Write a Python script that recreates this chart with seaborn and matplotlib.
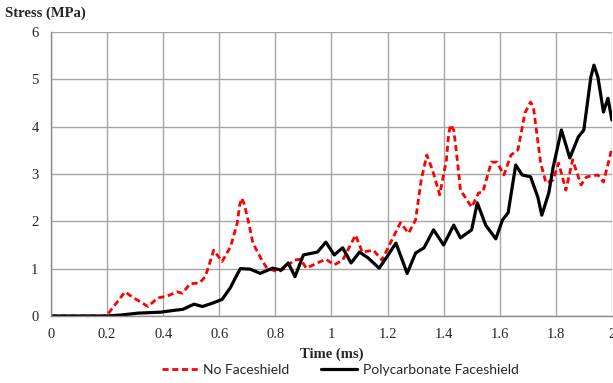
import numpy as np
import pandas as pd
import seaborn as sns
import matplotlib
matplotlib.use("Agg")
import matplotlib.pyplot as plt

# No Faceshield (red dashed)
red_t = [0, 0.19, 0.20, 0.23, 0.264, 0.29, 0.346, 0.38, 0.414, 0.45,
         0.468, 0.496, 0.53, 0.55, 0.565, 0.58, 0.61, 0.64, 0.664, 0.673,
         0.68, 0.688, 0.70, 0.72, 0.75, 0.77, 0.81, 0.84, 0.866, 0.89,
         0.91, 0.95, 0.98, 1.01, 1.04, 1.086, 1.11, 1.15, 1.18, 1.21,
         1.246, 1.275, 1.30, 1.32, 1.34, 1.36, 1.386, 1.41, 1.418, 1.425,
         1.436, 1.446, 1.46, 1.50, 1.525, 1.54, 1.57, 1.59, 1.615, 1.64,
         1.665, 1.69, 1.71, 1.72, 1.746, 1.765, 1.79, 1.81, 1.836, 1.86,
         1.89, 1.91, 1.95, 1.97, 1.99, 2.0]
red_s = [0, 0, 0.02, 0.25, 0.51, 0.40, 0.20, 0.38, 0.42, 0.51,
         0.48, 0.68, 0.70, 0.83, 1.1, 1.39, 1.15, 1.46, 1.96, 2.35,
         2.49, 2.38, 2.1, 1.54, 1.2, 1.01, 0.93, 1.03, 1.18, 1.2,
         1.01, 1.12, 1.2, 1.08, 1.18, 1.71, 1.35, 1.39, 1.18, 1.54,
         1.97, 1.75, 2.03, 2.87, 3.4, 3.09, 2.56, 3.3, 3.85, 4.04,
         3.93, 3.45, 2.66, 2.3, 2.6, 2.62, 3.25, 3.25, 2.98, 3.4,
         3.51, 4.29, 4.52, 4.42, 3.23, 2.81, 2.87, 3.23, 2.66, 3.3,
         2.77, 2.94, 2.98, 2.83, 3.3, 3.55]

# Polycarbonate Faceshield (black solid)
blk_t = [0, 0.20, 0.25, 0.31, 0.39, 0.44, 0.47, 0.51, 0.54, 0.58,
         0.61, 0.64, 0.657, 0.675, 0.71, 0.746, 0.79, 0.82, 0.846, 0.87,
         0.90, 0.95, 0.98, 1.01, 1.04, 1.07, 1.10, 1.13, 1.17, 1.19,
         1.23, 1.27, 1.30, 1.33, 1.364, 1.40, 1.436, 1.46, 1.50, 1.52,
         1.55, 1.586, 1.61, 1.63, 1.657, 1.68, 1.71, 1.736, 1.75, 1.775,
         1.79, 1.82, 1.85, 1.88, 1.90, 1.925, 1.936, 1.95, 1.97, 1.986,
         2.0]
blk_s = [0, 0, 0.02, 0.06, 0.08, 0.12, 0.14, 0.25, 0.2, 0.28,
         0.35, 0.6, 0.8, 1.0, 0.99, 0.9, 1.01, 0.97, 1.12, 0.83,
         1.29, 1.35, 1.56, 1.29, 1.44, 1.12, 1.35, 1.23, 1.01, 1.18,
         1.54, 0.9, 1.33, 1.44, 1.82, 1.5, 1.92, 1.65, 1.82, 2.39,
         1.92, 1.63, 2.03, 2.18, 3.19, 2.98, 2.94, 2.51, 2.13, 2.6,
         3.13, 3.93, 3.34, 3.78, 3.93, 5.05, 5.3, 5.05, 4.31, 4.6,
         4.14]

series_names = ["No Faceshield", "Polycarbonate Faceshield"]
x_ticks = [0, 0.2, 0.4, 0.6, 0.8, 1.0, 1.2, 1.4, 1.6, 1.8, 2.0]
x_labels = ["0", "0.2", "0.4", "0.6", "0.8", "1", "1.2", "1.4", "1.6", "1.8", "2"]
y_ticks = [0, 1, 2, 3, 4, 5, 6]

df = pd.concat([
    pd.DataFrame({"time": red_t, "stress": red_s, "series": series_names[0]}),
    pd.DataFrame({"time": blk_t, "stress": blk_s, "series": series_names[1]}),
])

sns.set_style("white")
serif = ["Liberation Serif", "DejaVu Serif"]

fig = plt.figure(figsize=(6.13, 3.83), dpi=100)
ax = fig.add_axes([0.0832, 0.175, 0.915, 0.7414])

sns.lineplot(data=df, x="time", y="stress", hue="series", style="series",
             palette={series_names[0]: "#ff0000", series_names[1]: "black"},
             dashes={series_names[0]: (2.2, 1.3), series_names[1]: ""},
             estimator=None, sort=True, ax=ax, legend=False)
for ln, lw in zip(ax.get_lines(), [2.0, 2.3]):
    ln.set_linewidth(lw)
    ln.set_solid_joinstyle("round")
    ln.set_dash_joinstyle("round")

ax.set_xlim(0, 2)
ax.set_ylim(0, 6)
ax.set_xticks(x_ticks)
ax.set_xticklabels(x_labels, fontfamily=serif, fontsize=10.5)
ax.set_yticks(y_ticks)
ax.set_yticklabels([str(v) for v in y_ticks], fontfamily=serif, fontsize=10.5)
ax.grid(True, color="#a6a6a6", linewidth=1.0)
ax.set_axisbelow(True)
for side in ["top", "right"]:
    ax.spines[side].set_visible(False)
for side in ["left", "bottom"]:
    ax.spines[side].set_color("#8c8c8c")
    ax.spines[side].set_linewidth(1.0)
ax.tick_params(axis="both", length=4, color="#8c8c8c", width=1.0, pad=5)
ax.set_xlabel("Time (ms)", fontfamily=serif, fontweight="bold", fontsize=10.5, labelpad=4)
ax.set_ylabel("")
fig.text(0.008, 0.965, "Stress (MPa)", fontfamily=serif, fontweight="bold",
         fontsize=10.5, va="center", ha="left")

handles = [plt.Line2D([], [], color="#ff0000", lw=2.0, dashes=(2.2, 1.3)),
           plt.Line2D([], [], color="black", lw=2.3)]
fig.legend(handles, series_names, loc="lower center", bbox_to_anchor=(0.555, -0.015),
           ncol=2, frameon=False, handlelength=2.6, columnspacing=2.3,
           handletextpad=0.4, prop={"family": "Lato", "size": 10})

fig.savefig("out.png", dpi=100)
